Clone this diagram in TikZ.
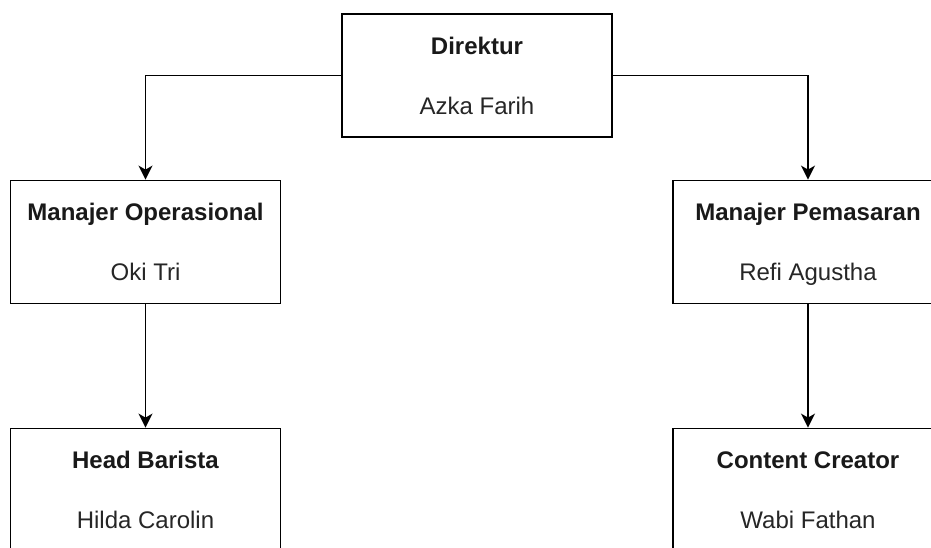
\documentclass[tikz,border=0pt]{standalone}
\usepackage{fontspec}
\setmainfont{Liberation Sans}
\usetikzlibrary{arrows.meta}
\tikzset{
  jabatan/.style={draw, line width=1.8pt, rectangle, minimum width=270pt, minimum height=123pt,
    align=center, inner sep=0pt, text depth=0pt, font=\fontsize{24}{60}\selectfont, text=black!85},
  garis/.style={line width=1.8pt, -{Stealth[length=14pt,width=14pt,inset=4pt]}}
}
\newcommand{\posisi}[2]{\textbf{\color{black!90}#1}\\#2}
\begin{document}
\begin{tikzpicture}[x=1pt,y=-1pt]
   \clip (0,0) rectangle (931,547);
   \fill[white] (0,0) rectangle (931,547);
   % kotak jabatan
   \node[jabatan] (dir) at (477,75.5) {\posisi{Direktur}{Azka Farih}};
   \node[jabatan] (mop) at (145.5,242) {\posisi{Manajer Operasional}{Oki Tri}};
   \node[jabatan] (mpm) at (808,242) {\posisi{Manajer Pemasaran}{Refi Agustha}};
   \node[jabatan] (hb) at (145.5,490) {\posisi{Head Barista}{Hilda Carolin}};
   \node[jabatan] (cc) at (808,490) {\posisi{Content Creator}{Wabi Fathan}};
   % garis komando
   \draw[garis] (dir.west) -| (mop.north);
   \draw[garis] (dir.east) -| (mpm.north);
   \draw[garis] (mop.south) -- (hb.north);
   \draw[garis] (mpm.south) -- (cc.north);
\end{tikzpicture}
\end{document}
